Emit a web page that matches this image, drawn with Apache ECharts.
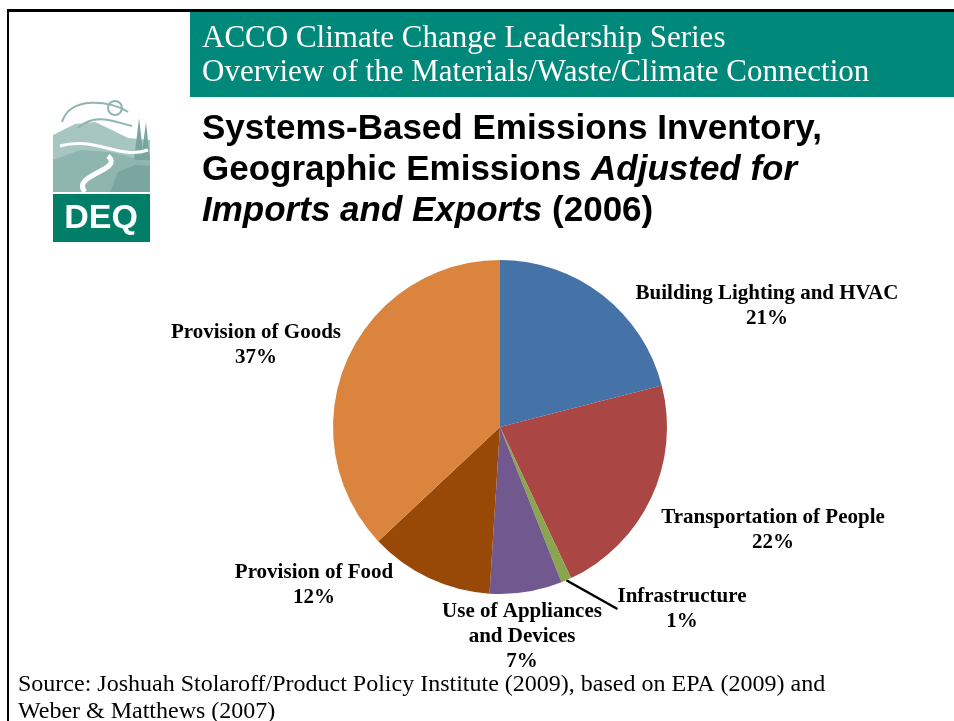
<!DOCTYPE html>
<html><head><meta charset="utf-8">
<script src="https://cdn.jsdelivr.net/npm/echarts@6/dist/echarts.min.js"></script>
<style>html,body{margin:0;padding:0;background:#fff}#c{width:954px;height:721px}</style>
</head><body><div id="c"></div>
<script>
var categories = ['Building Lighting and HVAC','Transportation of People','Infrastructure','Use of Appliances\nand Devices','Provision of Food','Provision of Goods'];
var shares = [21, 22, 1, 7, 12, 37];
var sliceColors = ['#4572A7','#AA4643','#89A54E','#71588F','#984807','#DB843D'];
var labelPos = [[767,306],[773,530],[682,609],[522,637],[314,585],[256,345]];

var chart = echarts.init(document.getElementById('c'), null, {renderer:'canvas'});
var serif = '"Liberation Serif","Times New Roman",serif';
var sans = '"Liberation Sans",Arial,sans-serif';
var logoC1 = '#a8c6c1', logoC2 = '#8fb5af', logoC3 = '#7aa69f';
chart.setOption({
  animation:false,
  backgroundColor:'#ffffff',
  title:[
    {text:'ACCO Climate Change Leadership Series\nOverview of the Materials/Waste/Climate Connection',
     left:197, top:17, textStyle:{fontFamily:serif, fontSize:31, fontWeight:'normal', color:'#ffffff', lineHeight:34}},
    {text:'{b|Systems-Based Emissions Inventory,}\n{b|Geographic Emissions }{i|Adjusted for}\n{i|Imports and Exports}{b| (2006)}',
     left:197, top:104,
     textStyle:{rich:{
       b:{fontFamily:sans, fontSize:35, fontWeight:'bold', color:'#000', lineHeight:41},
       i:{fontFamily:sans, fontSize:35, fontWeight:'bold', fontStyle:'italic', color:'#000', lineHeight:41}}}},
    {text:'Source: Joshuah Stolaroff/Product Policy Institute (2009), based on EPA (2009) and\nWeber & Matthews (2007)',
     left:13, top:666, textStyle:{fontFamily:serif, fontSize:24, fontWeight:'normal', color:'#000', lineHeight:27}}
  ],
  graphic:[
    {type:'rect', shape:{x:7,y:9,width:947,height:3}, style:{fill:'#000'}, z:-1},
    {type:'rect', shape:{x:7,y:9,width:2,height:712}, style:{fill:'#000'}, z:-1},
    {type:'rect', shape:{x:190,y:12,width:764,height:85}, style:{fill:'#00897A'}, z:-2},
    {type:'group', z:-1, children:[
      {type:'polygon', shape:{points:[[53,135],[75,124],[95,122],[112,130],[128,138],[150,140],[150,192],[53,192]]}, style:{fill:logoC1}},
      {type:'polygon', shape:{points:[[53,160],[80,150],[110,152],[135,158],[150,156],[150,192],[53,192]]}, style:{fill:logoC2}},
      {type:'polygon', shape:{points:[[118,172],[135,165],[150,166],[150,192],[110,192]]}, style:{fill:logoC3}},
      {type:'polygon', shape:{points:[[134,160],[139,118],[144,160]]}, style:{fill:logoC3}},
      {type:'polygon', shape:{points:[[141,160],[146,122],[150,160]]}, style:{fill:logoC3}},
      {type:'bezierCurve', shape:{x1:108,y1:156,x2:85,y2:192,cpx1:125,cpy1:170,cpx2:70,cpy2:175}, style:{stroke:'#fff', lineWidth:5, fill:null}},
      {type:'bezierCurve', shape:{x1:60,y1:146,x2:148,y2:150,cpx1:95,cpy1:136,cpx2:120,cpy2:160}, style:{stroke:'#fff', lineWidth:3, fill:null}},
      {type:'circle', shape:{cx:115,cy:108,r:7}, style:{fill:'none', stroke:logoC2, lineWidth:2}},
      {type:'bezierCurve', shape:{x1:62,y1:122,x2:128,y2:112,cpx1:70,cpy1:96,cpx2:110,cpy2:100}, style:{stroke:logoC2, lineWidth:2, fill:null}},
      {type:'bezierCurve', shape:{x1:78,y1:128,x2:132,y2:126,cpx1:95,cpy1:112,cpx2:115,cpy2:122}, style:{stroke:logoC2, lineWidth:2, fill:null}},
      {type:'rect', shape:{x:53,y:194,width:97,height:48}, style:{fill:'#007E68'}},
      {type:'text', style:{text:'DEQ', x:101, y:219, align:'center', verticalAlign:'middle', fill:'#fff', font:'bold 34px "Liberation Sans", Arial, sans-serif'}}
    ]}
  ],
  series:[{
    type:'pie',
    center:[500,427],
    radius:[0,167],
    startAngle:90,
    clockwise:true,
    avoidLabelOverlap:false,
    data: categories.map(function(n,i){
      return {name:n, value:shares[i], itemStyle:{color:sliceColors[i]},
        labelLine:{show:i===2, length:10, length2:0, smooth:false, lineStyle:{color:'#000', width:2.5}}};
    }),
    label:{show:true, position:'outside', formatter:'{b}\n{c}%', fontFamily:serif, fontWeight:'bold', fontSize:21, color:'#000', lineHeight:25, align:'center'},
    labelLayout:function(p){
      var q = labelPos[p.dataIndex];
      return {x:q[0], y:q[1], align:'center', verticalAlign:'middle'};
    }
  }]
});
</script></body></html>
